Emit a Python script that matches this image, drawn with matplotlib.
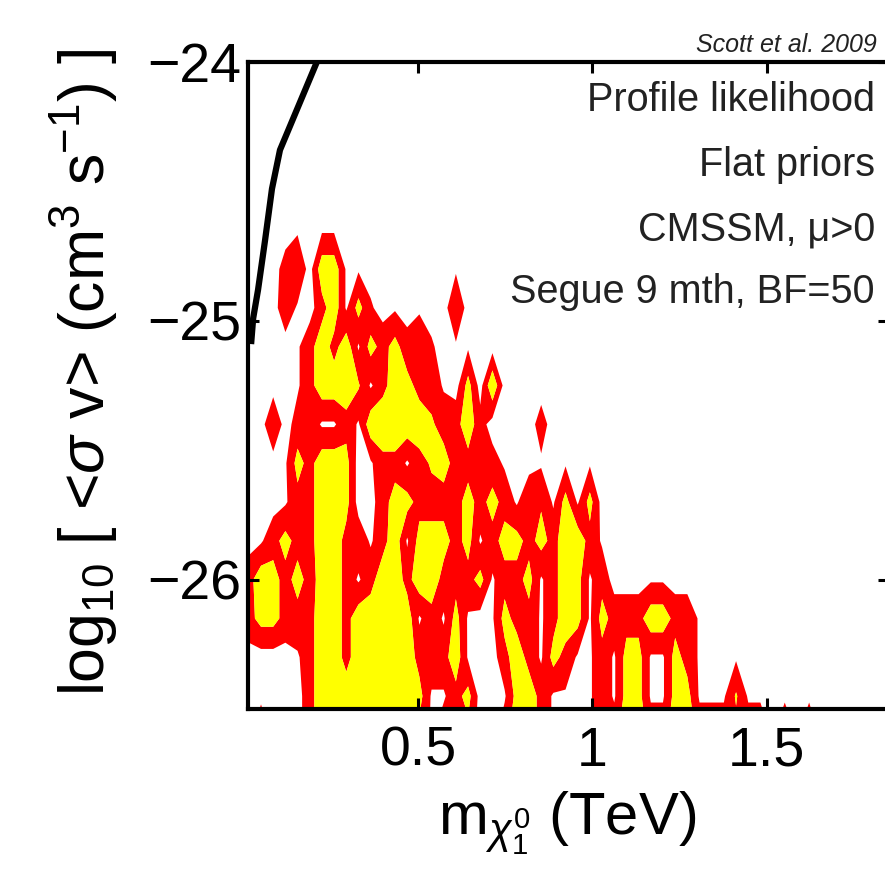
import numpy as np
import matplotlib
matplotlib.use('Agg')
import matplotlib.pyplot as plt

plt.rcParams['font.family'] = ['Liberation Sans', 'DejaVu Sans']
plt.rcParams['mathtext.fontset'] = 'custom'
plt.rcParams['mathtext.rm'] = 'Liberation Sans'
plt.rcParams['mathtext.it'] = 'Liberation Sans:italic'
plt.rcParams['mathtext.bf'] = 'Liberation Sans:bold'

# ---- data ----
# profile-likelihood grid (node values): '.'=0, '1'=just below the 95% level,
# 2-5 = inside 95% region (red), 6-9 = inside 68% region (yellow)
grid_x0, grid_dx = 0.0125, 0.035        # m_chi (TeV) of first column, spacing
grid_y0, grid_dy = -24.05, 0.15         # log10 <sigma v> of first (top) row, spacing
grid_rows = [
    ".......... .......... .......... .......... .......... ....",  # -24.05
    ".......... .......... .......... .......... .......... ....",  # -24.20
    ".......... .......... .......... .......... .......... ....",  # -24.35
    ".......... .......... .......... .......... .......... ....",  # -24.50
    "....1.11.. .......... .......... .......... .......... ....",  # -24.65
    "...35.8811 .......1.. .......... .......... .......... ....",  # -24.80
    "...41.4817 2.1.1..5.. .......... .......... .......... ....",  # -24.95
    "....148481 747342.11. .......... .......... .......... ....",  # -25.10
    "....148886 1487441.7. 9......... .......... .......... ....",  # -25.25
    "..5.341141 8998864483 ....3..... .......... .......... ....",  # -25.40
    "...174887. 1441467444 31..1.1.1. .......... .......... ....",  # -25.55
    "...144887. .477444474 741551717. .......... .......... ....",  # -25.70
    ".147448844 1481777471 4774748841 .......... .......... ....",  # -25.85
    "4874747841 4884884447 1447148714 ...11..... .......... ....",  # -26.00
    "4774448848 888814171. 1744148717 44488441.. .......... ....",  # -26.15
    "....148848 999844481. .484174114 1771174111 1......... ....",  # -26.30
    ".....48989 999971147. .178411114 1771177111 611....... ....",  # -26.45
    ".7...48888 888841444. .488411114 4884488444 4441919... ....",  # -26.60
]
fill_levels = [1.5, 5.5, 100]

# best-fit / limit curve (black line)
curve_x = [0.231, 0.208, 0.102, 0.079, 0.059, 0.039, 0.025, 0.019]
curve_y = [-23.93, -24.00, -24.34, -24.49, -24.69, -24.88, -24.99, -25.09]

x_ticks = [0.5, 1.0, 1.5]
x_ticklabels = ['0.5', '1', '1.5']
y_ticks = [-26, -25, -24]
x_limits = (0.0101, 1.852)
y_limits = (-26.5, -24.0)

annotations = ['Profile likelihood', 'Flat priors', 'CMSSM, \u03bc>0',
               'Segue 9 mth, BF=50']
credit = 'Scott et al. 2009'

# ---- build grid ----
Z = np.array([[0.0 if c == '.' else float(c) for c in r.replace(' ', '')]
              for r in grid_rows])
ny, nx = Z.shape
gx = grid_x0 + grid_dx * np.arange(nx)
gy = grid_y0 - grid_dy * np.arange(ny)
GX, GY = np.meshgrid(gx, gy)

# ---- figure ----
W, H = 885, 873
fig = plt.figure(figsize=(W / 100, H / 100), dpi=100)
ax = fig.add_axes([248 / W, (H - 709) / H, (889 - 248) / W, (709 - 62) / H])

ax.contourf(GX, GY, Z, levels=fill_levels, colors=['#ff0000', '#ffff00'],
            antialiased=True, zorder=1)
ax.plot(curve_x, curve_y, color='black', lw=4.5, solid_capstyle='butt',
        zorder=3)

ax.set_xlim(*x_limits)
ax.set_ylim(*y_limits)
ax.set_xticks(x_ticks)
ax.set_xticklabels(x_ticklabels)
ax.set_yticks(y_ticks)

for s in ax.spines.values():
    s.set_linewidth(3)
    s.set_zorder(5)
ax.tick_params(direction='in', length=8, width=2.2, top=True, right=True,
               labelsize=40, zorder=6)
ax.tick_params(axis='x', pad=12)
ax.tick_params(axis='y', pad=5)

fig.text(0.5 * (440 + 695) / W, (H - 835) / H,
         r'$\mathrm{m}_{\chi_1^0}$ (TeV)', fontsize=43, ha='center',
         va='baseline')
fig.text(84 / W, (H - 372) / H,
         r'log$_{10}$ [ <$\sigma$ v> (cm$^3$ s$^{-1}$) ]', fontsize=45,
         rotation=90, ha='center', va='center')

baselines = [111, 176, 241, 303]
for txt, b in zip(annotations, baselines):
    fig.text(875 / W, (H - b) / H, txt, fontsize=28.5, ha='right',
             va='baseline', color='#222222')
fig.text(877 / W, (H - 52) / H, credit, fontsize=18, style='italic',
         family=['Liberation Sans Narrow', 'Liberation Sans'],
         ha='right', va='baseline', color='#222222')

fig.savefig('out.png', dpi=100)
